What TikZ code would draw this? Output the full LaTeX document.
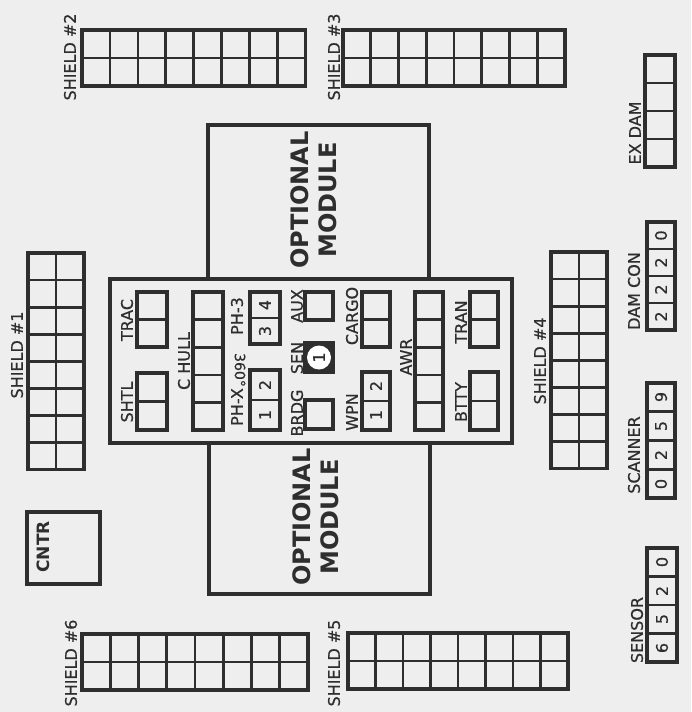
\documentclass[tikz,border=0pt]{standalone}
\usepackage{fontspec}
\setmainfont{DejaVu Sans}
\newfontfamily\ssdfont{DejaVu Sans}[FakeBold=0.6]
\definecolor{ink}{HTML}{2E2E2E}
\definecolor{paper}{HTML}{EEEEEE}

\begin{document}
\begin{tikzpicture}[
  x=1pt,y=-1pt,
  every node/.style={font=\ssdfont\fontsize{16}{18}\selectfont,text=ink,inner sep=0pt},
  every path/.style={line width=2.6pt},
  frame/.style={draw=ink,line width=3.2pt},
  rib/.style={draw=ink,line width=2.6pt},
  lbl/.style={rotate=90},
  heavy/.style={rotate=90,align=center,font=\fontsize{24}{28}\selectfont\bfseries}]
  \useasboundingbox (0,0) rectangle (691,712);
  \fill[paper] (0,0) rectangle (691,712);

  % shields #2, #3, #6, #5 lie across the page, #1 and #4 stand on end
  \foreach \x/\y/\w in {82/30/27.9,343/30/27.75,82/634/28.25,348/633/27.5} {
    \draw[rib] (\x,\y+28) -- ++(8*\w,0);
    \foreach \k in {1,...,7}
      \draw[rib] (\x+\k*\w,\y) -- ++(0,56);
    \draw[frame] (\x,\y) rectangle ++(8*\w,56);
  }
  \foreach \x/\y in {28/253,551/252} {
    \draw[rib] (\x+28,\y) -- ++(0,217);
    \foreach \k in {1,...,7}
      \draw[rib] (\x,\y+\k*27.1) -- ++(56,0);
    \draw[frame] (\x,\y) rectangle ++(56,216.8);
  }
  \node[lbl] (sh1) at (17,355) {SHIELD \#1};
  \node[lbl] (sh2) at (70,57) {SHIELD \#2};
  \node[lbl] (sh3) at (334,57) {SHIELD \#3};
  \node[lbl] (sh4) at (540,361) {SHIELD \#4};
  \node[lbl] (sh5) at (334,663) {SHIELD \#5};
  \node[lbl] (sh6) at (71,663) {SHIELD \#6};

  % hull with the two module bays
  \draw[frame] (110,279) rectangle (512,443);
  \draw[frame] (208,279) -- (208,125) -- (429,125) -- (429,279);
  \draw[frame] (209,443) -- (209,594) -- (430,594) -- (430,443);
  \node[heavy] (modfwd) at (314,200) {OPTIONAL\\MODULE};
  \node[heavy] (modaft) at (316,517) {OPTIONAL\\MODULE};

  % system boxes: x/top/width/cells/cell height
  \foreach \x/\y/\w/\n/\h in {137/292/30/2/27.5,137/373/30/2/28.5,
      193/292/30/5/27.6,250/292/30/2/26,250/370/30/2/30,305/292/28/1/28,
      305/400/28/1/29,362/292/28/2/27.5,362/372/28/2/29,415/292/28/5/27.6,
      470/292/28/2/27.5,470/372/28/2/29,645/55/30/4/28,647/222/28/4/27,
      647/383/28/4/28.75,647/548/30/4/28.5} {
    \foreach \k in {1,...,\n}
      \draw[rib] (\x,\y+\k*\h) -- ++(\w,0);
    \draw[frame] (\x,\y) rectangle ++(\w,\n*\h);
  }
  \draw[frame,fill=ink] (305,343) rectangle (333,372);
  \fill[white] (319,357.5) circle (12);
  \node[lbl] (sen1) at (319,357.5) {1};

  \node[lbl] (trac) at (127,320) {TRAC};
  \node[lbl] (shtl) at (127,402) {SHTL};
  \node[lbl] (chull) at (184,361) {C HULL};
  \node[lbl] (ph3) at (237,316) {PH-3};
  \node[lbl] (phx) at (237,407) {PH-X};
  \node[rotate=-90,font=\ssdfont\fontsize{14}{16}\selectfont] (arc) at (240,370) {360°};
  \node[lbl] (aux) at (297,306) {AUX};
  \node[lbl] (sen) at (297,358) {SEN};
  \node[lbl] (brdg) at (297,413) {BRDG};
  \node[lbl] (cargo) at (352,316) {CARGO};
  \node[lbl] (wpn) at (352,412) {WPN};
  \node[lbl] (awr) at (406,357) {AWR};
  \node[lbl] (tran) at (461,322) {TRAN};
  \node[lbl] (btty) at (461,402) {BTTY};
  \foreach \x/\y/\v [count=\i] in {265/305/4,265/331/3,265/385/2,265/415/1,
      376/386/2,376/415/1}
    \node[lbl] (wd\i) at (\x,\y) {\v};

  % damage control and sensor tracks
  \node[lbl] (exdam) at (635,133) {EX DAM};
  \node[lbl] (damcon) at (634,291) {DAM CON};
  \node[lbl] (scanner) at (634,455) {SCANNER};
  \node[lbl] (sensor) at (637,630) {SENSOR};
  \foreach \y/\v [count=\i] in {235.5/0,262.5/2,289.5/2,316.5/2}
    \node[lbl] (dc\i) at (661,\y) {\v};
  \foreach \y/\v [count=\i] in {397/9,426/5,455/2,484/0}
    \node[lbl] (sc\i) at (661,\y) {\v};
  \foreach \y/\v [count=\i] in {562/0,591/2,619/5,648/6}
    \node[lbl] (se\i) at (662,\y) {\v};

  \draw[frame] (27,512) rectangle (100,584);
  \node[lbl,font=\fontsize{17}{20}\selectfont\bfseries] (cntr) at (43,547) {CNTR};
\end{tikzpicture}
\end{document}
